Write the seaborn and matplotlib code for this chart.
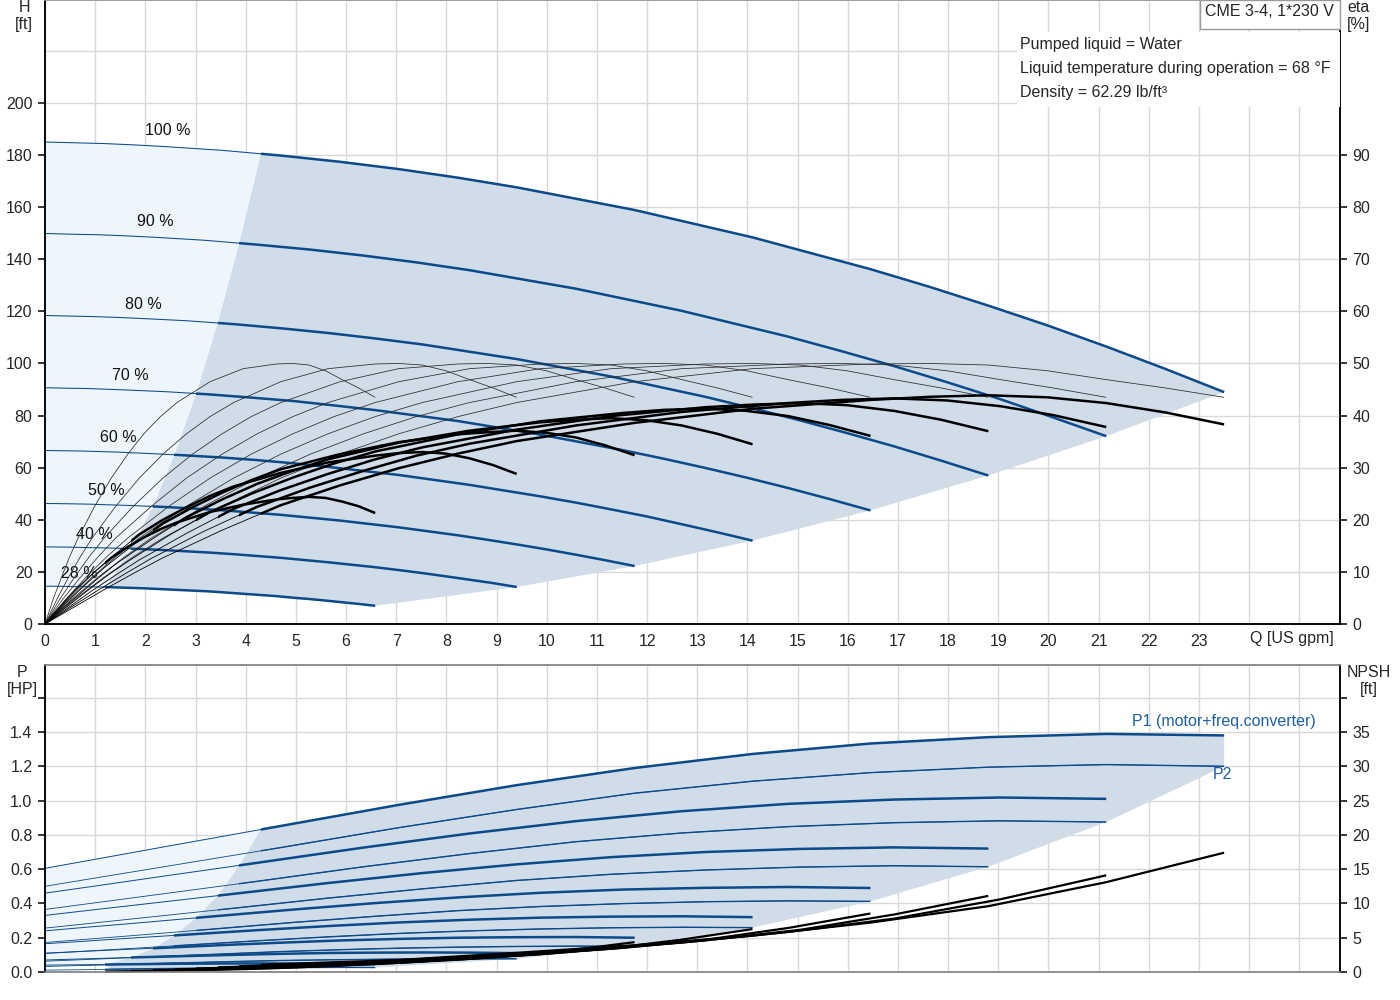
import matplotlib
matplotlib.use("Agg")
import matplotlib.pyplot as plt
import matplotlib.transforms as mtransforms
from matplotlib.patches import Polygon, Rectangle
import seaborn as sns

# ---------------- data ----------------
speed_labels = ["100 %", "90 %", "80 %", "70 %", "60 %", "50 %", "40 %", "28 %"]

# flow [US gpm] for head and efficiency curves (fine point set), per speed
qf_100 = [0, 0.59, 1.18, 1.76, 2.35, 3.53, 4.7, 5.88, 7.05, 8.23, 9.4, 11.75, 14.1, 16.45, 17.63, 18.8, 19.98, 21.15, 22.33, 23.5]
qf_90 = [0, 0.53, 1.06, 1.59, 2.12, 3.17, 4.23, 5.29, 6.35, 7.40, 8.46, 10.58, 12.69, 14.81, 15.86, 16.92, 17.98, 19.04, 20.09, 21.15]
qf_80 = [0, 0.47, 0.94, 1.41, 1.88, 2.82, 3.76, 4.7, 5.64, 6.58, 7.52, 9.4, 11.28, 13.16, 14.1, 15.04, 15.98, 16.92, 17.86, 18.8]
qf_70 = [0, 0.41, 0.82, 1.23, 1.65, 2.47, 3.29, 4.11, 4.94, 5.76, 6.58, 8.23, 9.87, 11.52, 12.34, 13.16, 13.98, 14.81, 15.63, 16.45]
qf_60 = [0, 0.35, 0.71, 1.06, 1.41, 2.12, 2.82, 3.53, 4.23, 4.94, 5.64, 7.05, 8.46, 9.87, 10.58, 11.28, 11.99, 12.69, 13.40, 14.1]
qf_50 = [0, 0.29, 0.59, 0.88, 1.18, 1.76, 2.35, 2.94, 3.53, 4.11, 4.7, 5.88, 7.05, 8.23, 8.81, 9.4, 9.99, 10.58, 11.16, 11.75]
qf_40 = [0, 0.235, 0.47, 0.705, 0.94, 1.41, 1.88, 2.35, 2.82, 3.29, 3.76, 4.7, 5.64, 6.58, 7.05, 7.52, 7.99, 8.46, 8.93, 9.4]
qf_28 = [0, 0.16, 0.33, 0.49, 0.66, 0.99, 1.32, 1.65, 1.97, 2.30, 2.63, 3.29, 3.95, 4.61, 4.94, 5.26, 5.59, 5.92, 6.25, 6.58]

# head H [ft]
h_100 = [185.0, 184.7, 184.4, 183.9, 183.3, 181.8, 179.8, 177.4, 174.6, 171.3, 167.6, 158.9, 148.4, 136.2, 129.4, 122.2, 114.6, 106.5, 97.9, 89.0]
h_90 = [149.9, 149.6, 149.4, 149.0, 148.5, 147.3, 145.6, 143.7, 141.4, 138.8, 135.8, 128.7, 120.2, 110.3, 104.8, 99.0, 92.8, 86.3, 79.3, 72.1]
h_80 = [118.4, 118.2, 118.0, 117.7, 117.3, 116.4, 115.1, 113.5, 111.7, 109.6, 107.3, 101.7, 95.0, 87.2, 82.8, 78.2, 73.3, 68.2, 62.7, 57.0]
h_70 = [90.7, 90.5, 90.4, 90.1, 89.8, 89.1, 88.1, 86.9, 85.6, 83.9, 82.1, 77.9, 72.7, 66.7, 63.4, 59.9, 56.2, 52.2, 48.0, 43.6]
h_60 = [66.6, 66.5, 66.4, 66.2, 66.0, 65.4, 64.7, 63.9, 62.9, 61.7, 60.3, 57.2, 53.4, 49.0, 46.6, 44.0, 41.3, 38.3, 35.2, 32.0]
h_50 = [46.25, 46.2, 46.1, 46.0, 45.8, 45.45, 44.95, 44.35, 43.65, 42.8, 41.9, 39.7, 37.1, 34.05, 32.35, 30.55, 28.65, 26.6, 24.5, 22.25]
h_40 = [29.6, 29.55, 29.5, 29.4, 29.3, 29.1, 28.8, 28.4, 27.9, 27.4, 26.8, 25.4, 23.7, 21.8, 20.7, 19.55, 18.3, 17.0, 15.7, 14.2]
h_28 = [14.5, 14.5, 14.45, 14.4, 14.35, 14.25, 14.1, 13.9, 13.7, 13.4, 13.1, 12.5, 11.6, 10.7, 10.1, 9.6, 9.0, 8.35, 7.7, 7.0]

# pump efficiency eta [%] (heavy black curves)
eta_100 = [0, 3.3, 6.6, 9.7, 12.7, 18.0, 22.8, 26.6, 29.9, 32.7, 35.1, 38.6, 41.3, 43.0, 43.6, 43.9, 43.5, 42.4, 40.6, 38.3]
eta_90 = [0, 3.3, 6.5, 9.6, 12.6, 17.8, 22.5, 26.2, 29.4, 32.3, 34.6, 38.1, 40.7, 42.4, 43.0, 43.3, 42.9, 41.8, 40.1, 37.8]
eta_80 = [0, 3.2, 6.4, 9.4, 12.3, 17.4, 22.1, 25.7, 28.8, 31.6, 33.9, 37.3, 39.9, 41.6, 42.1, 42.4, 42.0, 40.9, 39.2, 37.0]
eta_70 = [0, 3.1, 6.2, 9.2, 12.0, 17.0, 21.5, 25.0, 28.1, 30.8, 33.1, 36.4, 38.9, 40.5, 41.1, 41.35, 40.9, 39.9, 38.2, 36.1]
eta_60 = [0, 3.0, 5.9, 8.8, 11.5, 16.2, 20.5, 23.9, 26.9, 29.4, 31.6, 34.8, 37.1, 38.7, 39.2, 39.5, 39.1, 38.1, 36.5, 34.5]
eta_50 = [0, 2.8, 5.6, 8.2, 10.8, 15.2, 19.3, 22.4, 25.2, 27.6, 29.7, 32.6, 34.9, 36.4, 36.8, 37.1, 36.7, 35.8, 34.3, 32.4]
eta_40 = [0, 2.5, 5.0, 7.3, 9.6, 13.5, 17.2, 20.0, 22.4, 24.6, 26.4, 29.0, 31.0, 32.3, 32.8, 33.0, 32.7, 31.8, 30.5, 28.8]
eta_28 = [0, 1.9, 3.7, 5.4, 7.1, 10.0, 12.7, 14.8, 16.6, 18.2, 19.5, 21.5, 22.9, 23.9, 24.2, 24.4, 24.2, 23.5, 22.6, 21.3]

# thin reference efficiency curve (same values at each speed's own flow points)
eta_ref = [0, 4.7, 9.0, 12.9, 16.5, 22.6, 28.0, 32.6, 36.5, 39.8, 42.5, 46.5, 49.0, 49.9, 50.0, 49.7, 48.6, 46.9, 45.3, 43.5]

# flow [US gpm] for power and NPSH curves, per speed
q_100 = [0, 1.18, 2.35, 4.7, 7.05, 9.4, 11.75, 14.1, 16.45, 18.8, 21.15, 23.5]
q_90 = [0, 1.06, 2.12, 4.23, 6.35, 8.46, 10.58, 12.69, 14.81, 16.92, 19.04, 21.15]
q_80 = [0, 0.94, 1.88, 3.76, 5.64, 7.52, 9.4, 11.28, 13.16, 15.04, 16.92, 18.8]
q_70 = [0, 0.82, 1.65, 3.29, 4.94, 6.58, 8.23, 9.87, 11.52, 13.16, 14.81, 16.45]
q_60 = [0, 0.71, 1.41, 2.82, 4.23, 5.64, 7.05, 8.46, 9.87, 11.28, 12.69, 14.1]
q_50 = [0, 0.59, 1.18, 2.35, 3.53, 4.7, 5.88, 7.05, 8.23, 9.4, 10.58, 11.75]
q_40 = [0, 0.47, 0.94, 1.88, 2.82, 3.76, 4.7, 5.64, 6.58, 7.52, 8.46, 9.4]
q_28 = [0, 0.33, 0.66, 1.32, 1.97, 2.63, 3.29, 3.95, 4.61, 5.26, 5.92, 6.58]

# P1 (motor + freq. converter) [HP]
p1_100 = [0.605, 0.667, 0.729, 0.852, 0.975, 1.09, 1.19, 1.272, 1.333, 1.37, 1.389, 1.38]
p1_90 = [0.460, 0.504, 0.549, 0.637, 0.726, 0.808, 0.880, 0.938, 0.981, 1.006, 1.018, 1.010]
p1_80 = [0.330, 0.362, 0.393, 0.456, 0.519, 0.577, 0.628, 0.670, 0.700, 0.718, 0.727, 0.720]
p1_70 = [0.240, 0.261, 0.281, 0.323, 0.364, 0.402, 0.435, 0.462, 0.481, 0.491, 0.496, 0.490]
p1_60 = [0.165, 0.178, 0.192, 0.218, 0.244, 0.268, 0.289, 0.305, 0.317, 0.323, 0.325, 0.320]
p1_50 = [0.110, 0.118, 0.126, 0.141, 0.157, 0.171, 0.184, 0.193, 0.200, 0.203, 0.204, 0.200]
p1_40 = [0.070, 0.074, 0.078, 0.086, 0.093, 0.100, 0.106, 0.111, 0.113, 0.114, 0.113, 0.110]
p1_28 = [0.040, 0.041, 0.042, 0.044, 0.046, 0.048, 0.049, 0.050, 0.050, 0.049, 0.048, 0.046]

# P2 (shaft power) [HP]
p2_100 = [0.50, 0.557, 0.613, 0.726, 0.842, 0.948, 1.043, 1.113, 1.163, 1.195, 1.21, 1.20]
p2_90 = [0.365, 0.406, 0.447, 0.529, 0.614, 0.691, 0.760, 0.811, 0.848, 0.871, 0.882, 0.875]
p2_80 = [0.256, 0.285, 0.314, 0.372, 0.431, 0.485, 0.534, 0.570, 0.595, 0.612, 0.620, 0.614]
p2_70 = [0.172, 0.191, 0.210, 0.249, 0.289, 0.325, 0.358, 0.382, 0.399, 0.410, 0.415, 0.412]
p2_60 = [0.108, 0.120, 0.132, 0.157, 0.182, 0.205, 0.225, 0.240, 0.251, 0.258, 0.261, 0.259]
p2_50 = [0.063, 0.070, 0.077, 0.091, 0.105, 0.119, 0.130, 0.139, 0.145, 0.149, 0.151, 0.150]
p2_40 = [0.032, 0.036, 0.039, 0.047, 0.054, 0.061, 0.067, 0.071, 0.074, 0.077, 0.077, 0.077]
p2_28 = [0.011, 0.012, 0.013, 0.016, 0.019, 0.021, 0.023, 0.024, 0.026, 0.026, 0.027, 0.026]

# NPSH [ft]
npsh_100 = [0.3, 0.45, 0.6, 1.15, 1.75, 2.8, 3.9, 5.3, 7.2, 9.6, 13.1, 17.4]
npsh_90 = [0.24, 0.36, 0.49, 0.93, 1.42, 2.27, 3.16, 4.29, 5.83, 7.78, 10.6, 14.1]
npsh_80 = [0.19, 0.29, 0.38, 0.74, 1.12, 1.79, 2.50, 3.39, 4.61, 6.14, 8.38, 11.1]
npsh_70 = [0.15, 0.22, 0.29, 0.56, 0.86, 1.37, 1.91, 2.60, 3.53, 4.70, 6.42, 8.53]
npsh_60 = [0.11, 0.16, 0.22, 0.41, 0.63, 1.01, 1.40, 1.91, 2.59, 3.46, 4.72, 6.26]
npsh_50 = [0.08, 0.11, 0.15, 0.29, 0.44, 0.70, 0.98, 1.33, 1.80, 2.40, 3.28, 4.35]
npsh_40 = [0.05, 0.07, 0.10, 0.18, 0.28, 0.45, 0.62, 0.85, 1.15, 1.54, 2.10, 2.78]
npsh_28 = [0.02, 0.04, 0.05, 0.09, 0.14, 0.22, 0.31, 0.42, 0.56, 0.75, 1.03, 1.36]

# minimum-flow boundary of the recommended (dark) area, per speed
bnd_q = [4.3, 3.87, 3.44, 3.01, 2.58, 2.15, 1.72, 1.2]
bnd_h = [180.5, 146.2, 115.5, 88.4, 65.0, 45.1, 28.9, 14.15]
bnd_p = [0.831, 0.622, 0.445, 0.316, 0.214, 0.138, 0.085, 0.044]

x_ticks = list(range(0, 26))
x_tick_labels = [str(i) for i in range(24)] + ["", ""]
h_ticks = list(range(0, 221, 20))
eta_ticks = list(range(0, 91, 10))
p_ticks = [0.0, 0.2, 0.4, 0.6, 0.8, 1.0, 1.2, 1.4, 1.6]
npsh_ticks = list(range(0, 41, 5))

info_lines = ["Pumped liquid = Water",
              "Liquid temperature during operation = 68 \u00b0F",
              "Density = 62.29 lb/ft\u00b3"]
title_text = "CME 3-4, 1*230 V"

QF = [qf_100, qf_90, qf_80, qf_70, qf_60, qf_50, qf_40, qf_28]
H = [h_100, h_90, h_80, h_70, h_60, h_50, h_40, h_28]
ETA = [eta_100, eta_90, eta_80, eta_70, eta_60, eta_50, eta_40, eta_28]
Q = [q_100, q_90, q_80, q_70, q_60, q_50, q_40, q_28]
P1 = [p1_100, p1_90, p1_80, p1_70, p1_60, p1_50, p1_40, p1_28]
P2 = [p2_100, p2_90, p2_80, p2_70, p2_60, p2_50, p2_40, p2_28]
NPSH = [npsh_100, npsh_90, npsh_80, npsh_70, npsh_60, npsh_50, npsh_40, npsh_28]

# ---------------- style ----------------
sns.set_theme(style="white")
plt.rcParams["font.family"] = ["Liberation Sans", "DejaVu Sans"]
FS = 11.5
plt.rcParams["font.size"] = FS

BLUE = "#0C4A8A"
TXT_BLUE = "#1F5FA5"
DARK = "#D0DCE8"
LIGHT = "#EEF5FC"
GRID = "#D8D8D8"

W, HPX = 1400, 1000
fig = plt.figure(figsize=(14, 10), dpi=100)
left, right = 45 / W, 1340 / W
ax_top = fig.add_axes([left, 1 - 624 / HPX, right - left, 624 / HPX])
ax_bot = fig.add_axes([left, 1 - 972 / HPX, right - left, (972 - 665) / HPX])
ax_eta = ax_top.twinx()
ax_npsh = ax_bot.twinx()

XMAX = 25.81
HMAX = 239.5
PMAX = 1.791


def clip_right(ax, qb):
    return Rectangle((qb, -1e4), 1e4, 1e5, transform=ax.transData)


def curve(ax, x, y, color, lw, clip=None, z=2.0):
    sns.lineplot(x=x, y=y, ax=ax, color=color, linewidth=lw, errorbar=None,
                 estimator=None, sort=False, legend=False)
    ln = ax.lines[-1]
    ln.set_zorder(z)
    ln.set_solid_capstyle("butt")
    ln.set_solid_joinstyle("round")
    if clip is not None:
        ln.set_clip_path(clip)
    return ln


# ---------------- top panel: shaded areas ----------------
top_dark = list(zip(bnd_q[::-1], bnd_h[::-1]))
top_dark += [(q, h) for q, h in zip(qf_100, h_100) if q > bnd_q[0]]
top_dark += [(qs[-1], hs[-1]) for qs, hs in zip(QF[1:], H[1:])]
top_dark += [(q, h) for q, h in zip(qf_28[::-1], h_28[::-1]) if bnd_q[-1] < q < qf_28[-1]]
ax_top.add_patch(Polygon(top_dark, closed=True, facecolor=DARK, edgecolor="none", zorder=1))

top_light = [(0, h_28[0])]
top_light += [(q, h) for q, h in zip(qf_100, h_100) if q < bnd_q[0]]
top_light += list(zip(bnd_q, bnd_h))
top_light += [(q, h) for q, h in zip(qf_28[::-1], h_28[::-1]) if q < bnd_q[-1]]
ax_top.add_patch(Polygon(top_light, closed=True, facecolor=LIGHT, edgecolor="none", zorder=1))

# speed curves H(Q)
for qs, hs, qb in zip(QF, H, bnd_q):
    curve(ax_top, qs, hs, BLUE, 0.75, z=3)
    curve(ax_top, qs, hs, BLUE, 1.8, clip=clip_right(ax_top, qb), z=3.1)

# efficiency curves on the eta axis
for qs, es, qb in zip(QF, ETA, bnd_q):
    curve(ax_eta, qs, eta_ref, "#2A2A2A", 0.55, z=2)
    curve(ax_eta, qs, es, "black", 0.6, z=2.2)
    curve(ax_eta, qs, es, "black", 1.8, clip=clip_right(ax_eta, qb), z=2.3)

# speed labels
lbl_pos = [(1.99, 189.6), (1.83, 154.3), (1.59, 122.8), (1.34, 95.2),
           (1.10, 71.4), (0.86, 51.1), (0.62, 34.5), (0.32, 19.2)]
for lab, (lx, ly) in zip(speed_labels, lbl_pos):
    ax_top.text(lx, ly, lab, fontsize=FS, ha="left", va="center", color="#111111", zorder=5)

# ---------------- bottom panel: shaded areas ----------------
bot_dark = list(zip(bnd_q[::-1], bnd_p[::-1]))
bot_dark += [(q, p) for q, p in zip(q_100, p1_100) if q > bnd_q[0]]
bot_dark += [(qs[-1], ps[-1]) for qs, ps in zip(Q, P2)]
bot_dark += [(q, p) for q, p in zip(q_28[::-1], p2_28[::-1]) if bnd_q[-1] < q < q_28[-1]]
ax_bot.add_patch(Polygon(bot_dark, closed=True, facecolor=DARK, edgecolor="none", zorder=1))

bot_light = [(0, p1_28[0])]
bot_light += [(q, p) for q, p in zip(q_100, p1_100) if q < bnd_q[0]]
bot_light += list(zip(bnd_q, bnd_p))
bot_light += [(q, p) for q, p in zip(q_28[::-1], p1_28[::-1]) if q < bnd_q[-1]]
ax_bot.add_patch(Polygon(bot_light, closed=True, facecolor=LIGHT, edgecolor="none", zorder=1))

for qs, p1s, p2s, qb in zip(Q, P1, P2, bnd_q):
    curve(ax_bot, qs, p2s, BLUE, 0.6, z=3)
    curve(ax_bot, qs, p2s, BLUE, 1.0, clip=clip_right(ax_bot, qb), z=3.05)
    curve(ax_bot, qs, p1s, BLUE, 0.7, z=3.1)
    curve(ax_bot, qs, p1s, BLUE, 1.8, clip=clip_right(ax_bot, qb), z=3.2)

for qs, ns, qb in zip(Q, NPSH, bnd_q):
    curve(ax_npsh, qs, ns, "black", 1.6, clip=clip_right(ax_npsh, qb), z=2.5)

ax_bot.text(21.67, 1.464, "P1 (motor+freq.converter)", fontsize=FS, color=TXT_BLUE,
            ha="left", va="center", zorder=6)
ax_bot.text(23.28, 1.155, "P2", fontsize=FS, color=TXT_BLUE, ha="left", va="center", zorder=6)

# ---------------- axes cosmetics ----------------
for ax in (ax_top, ax_bot):
    ax.set_xlim(0, XMAX)
    ax.set_xticks(x_ticks)
    ax.grid(True, color=GRID, linewidth=1.0)
    ax.set_xlabel("")
    ax.set_ylabel("")

ax_top.set_ylim(0, HMAX)
ax_top.set_yticks(h_ticks)
ax_top.set_yticklabels([str(v) if v <= 200 else "" for v in h_ticks])
ax_top.yaxis.get_major_ticks()[-1].tick1line.set_visible(False)
ax_top.set_xticklabels(x_tick_labels)
ax_top.tick_params(axis="x", direction="out", length=6, width=1.1, color="black",
                   labelsize=FS, pad=1.5)
ax_top.tick_params(axis="y", direction="out", length=5, width=1.1, color="black",
                   labelsize=FS, pad=4)

ax_eta.set_ylim(0, HMAX / 2)
ax_eta.set_yticks(eta_ticks)
ax_eta.set_yticklabels([str(v) for v in eta_ticks])
ax_eta.tick_params(axis="y", direction="out", length=5, width=1.1, color="black",
                   labelsize=FS, pad=4)
ax_eta.set_ylabel("")

ax_bot.set_ylim(0, PMAX)
ax_bot.set_yticks(p_ticks)
ax_bot.set_yticklabels([f"{v:.1f}" if v < 1.5 else "" for v in p_ticks])
ax_bot.set_xticklabels([])
ax_bot.tick_params(axis="x", length=0)
ax_bot.tick_params(axis="y", direction="out", length=5, width=1.1, color="black",
                   labelsize=FS, pad=4)

ax_npsh.set_ylim(0, PMAX * 25)
ax_npsh.set_yticks(npsh_ticks)
ax_npsh.set_yticklabels([str(v) if v < 40 else "" for v in npsh_ticks])
ax_npsh.tick_params(axis="y", direction="out", length=5, width=1.1, color="black",
                    labelsize=FS, pad=4)
ax_npsh.set_ylabel("")

for ax in (ax_top, ax_eta):
    ax.spines["left"].set_color("black")
    ax.spines["bottom"].set_color("black")
    ax.spines["right"].set_color("black")
    ax.spines["top"].set_color("#9A9A9A")
    for s in ax.spines.values():
        s.set_linewidth(1.1)
for ax in (ax_bot, ax_npsh):
    ax.spines["left"].set_color("black")
    ax.spines["right"].set_color("black")
    ax.spines["top"].set_color("#8C8C8C")
    ax.spines["bottom"].set_color("#8C8C8C")
    for s in ax.spines.values():
        s.set_linewidth(1.1)

# Q axis label in the tick-label row
trans = mtransforms.blended_transform_factory(ax_top.transData, ax_top.transAxes)
ax_top.text(24.86, -14 / 624, "Q [US gpm]", transform=trans, ha="center", va="center",
            fontsize=FS, clip_on=False)

# info box and title box (on top of everything)
ax_eta.add_patch(Rectangle((972 / 1295, (624 - 107) / 624), 1 - 972 / 1295, 75 / 624,
                           transform=ax_eta.transAxes, facecolor="white",
                           edgecolor="none", zorder=20, clip_on=False))
ax_eta.add_patch(Rectangle((1155 / 1295, (624 - 29) / 624), 1 - 1155 / 1295, 29 / 624,
                           transform=ax_eta.transAxes, facecolor="white",
                           edgecolor="#9A9A9A", linewidth=1.0, zorder=20, clip_on=False))
ax_eta.text(1224 / 1295, (624 - 12) / 624, title_text, transform=ax_eta.transAxes,
            ha="center", va="center", fontsize=FS, zorder=21)
for i, line in enumerate(info_lines):
    ax_eta.text(975 / 1295, (624 - 44 - 24 * i) / 624, line, transform=ax_eta.transAxes,
                ha="left", va="center", fontsize=FS, zorder=21)

# axis unit labels
fig.text(24 / W, 1 - 16 / HPX, "H\n[ft]", ha="center", va="center", fontsize=FS, linespacing=1.1)
fig.text(1359 / W, 1 - 16 / HPX, "eta\n[%]", ha="center", va="center", fontsize=FS, linespacing=1.1)
fig.text(22 / W, 1 - 681 / HPX, "P\n[HP]", ha="center", va="center", fontsize=FS, linespacing=1.1)
fig.text(1369 / W, 1 - 681 / HPX, "NPSH\n[ft]", ha="center", va="center", fontsize=FS, linespacing=1.1)

fig.savefig("out.png", dpi=100)
